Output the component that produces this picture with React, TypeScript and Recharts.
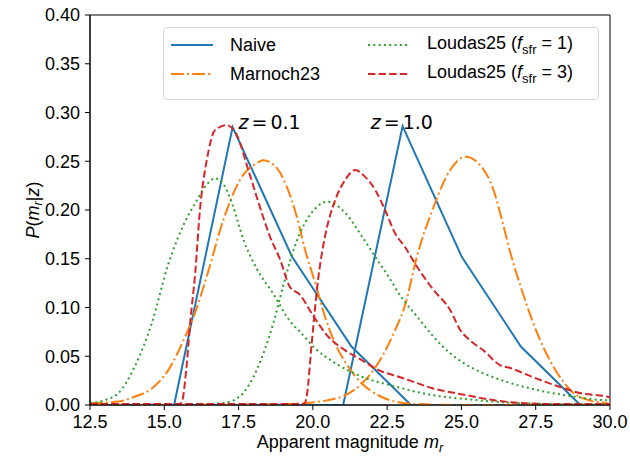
import React from 'react'
import { LineChart, Line, XAxis, YAxis, ReferenceArea, ReferenceDot } from 'recharts'

const FONT = '"Liberation Sans", Arial, Helvetica, sans-serif'
const MATH = '"DejaVu Sans", sans-serif'

// axis ticks
const xTicks = [12.5, 15, 17.5, 20, 22.5, 25, 27.5, 30]
const yTicks = [0, 0.05, 0.1, 0.15, 0.2, 0.25, 0.3, 0.35, 0.4]

// Naive
const naiveZ01M = [12.5, 15.33, 17.3, 19.3, 21.3, 23.3, 30]
const naiveZ01P = [0, 0, 0.285, 0.152, 0.06, 0, 0]
const naiveZ10M = [12.5, 21.02, 23.02, 25.01, 27.0, 29.0, 30]
const naiveZ10P = [0, 0, 0.286, 0.152, 0.06, 0, 0]

// Marnoch23
const marnochZ01M = [12.5, 13.45, 14.0, 14.58, 15.14, 15.7, 16.04, 16.43, 16.99, 17.55, 18.11, 18.33, 18.79, 19.12, 19.46, 19.74, 20.08, 20.41, 20.75, 21.2, 21.65, 22.2, 22.77, 23.5, 25, 30]
const marnochZ01P = [0.002, 0.0035, 0.0085, 0.017, 0.036, 0.07, 0.095, 0.132, 0.19, 0.231, 0.248, 0.251, 0.243, 0.224, 0.193, 0.159, 0.125, 0.0905, 0.063, 0.039, 0.022, 0.01, 0.0035, 0.001, 0, 0]
const marnochZ10M = [12.5, 18.5, 19.74, 20.52, 21.09, 21.65, 22.2, 22.77, 23.1, 23.5, 24.06, 24.62, 25.13, 25.63, 26.08, 26.42, 26.64, 27.03, 27.6, 28.16, 28.72, 29.28, 29.84, 30]
const marnochZ10P = [0, 0.0005, 0.002, 0.005, 0.01, 0.022, 0.043, 0.077, 0.102, 0.152, 0.203, 0.241, 0.2545, 0.246, 0.2205, 0.183, 0.157, 0.118, 0.07, 0.036, 0.0137, 0.005, 0.002, 0.001]

// Loudas25 (f_sfr = 1)
const loudas1Z01M = [12.5, 13.0, 13.45, 14.0, 14.58, 15.14, 15.7, 16.04, 16.4, 16.71, 17.0, 17.3, 17.66, 18.11, 18.67, 19.23, 19.57, 20.08, 20.75, 21.65, 22.77, 24.05, 25.18, 26.3, 28, 30]
const loudas1Z01P = [0.002, 0.005, 0.012, 0.039, 0.084, 0.145, 0.188, 0.207, 0.225, 0.2325, 0.226, 0.205, 0.17, 0.14, 0.114, 0.086, 0.075, 0.058, 0.043, 0.029, 0.019, 0.01, 0.006, 0.003, 0.001, 0.0005]
const loudas1Z10M = [12.5, 16.0, 16.98, 17.55, 18.11, 18.67, 19.0, 19.35, 19.74, 20.1, 20.47, 21.09, 21.65, 22.1, 22.54, 22.99, 23.5, 24.06, 24.62, 25.18, 25.74, 26.3, 27.6, 28.72, 29.84, 30]
const loudas1Z10P = [0, 0.0005, 0.002, 0.009, 0.036, 0.084, 0.122, 0.159, 0.187, 0.202, 0.2085, 0.197, 0.173, 0.152, 0.132, 0.11, 0.091, 0.07, 0.053, 0.041, 0.0325, 0.026, 0.015, 0.009, 0.005, 0.005]

// Loudas25 (f_sfr = 3)
const loudas3Z01M = [12.5, 15.5, 15.59, 15.75, 15.87, 16.04, 16.2, 16.43, 16.71, 17.1, 17.44, 17.83, 18.11, 18.56, 18.9, 19.23, 19.57, 19.96, 20.52, 21.09, 21.65, 22.2, 22.99, 24.05, 25.18, 26.3, 28, 30]
const loudas3Z01P = [0.001, 0.001, 0.003, 0.04, 0.084, 0.135, 0.2, 0.251, 0.282, 0.287, 0.277, 0.241, 0.2135, 0.1725, 0.149, 0.121, 0.113, 0.094, 0.07, 0.056, 0.046, 0.036, 0.028, 0.017, 0.01, 0.004, 0.001, 0.001]
const loudas3Z10M = [12.5, 19.7, 19.8, 19.96, 20.19, 20.41, 20.75, 21.09, 21.42, 21.76, 22.1, 22.43, 22.77, 23.1, 23.5, 24.06, 24.62, 24.96, 25.3, 25.74, 26.3, 26.64, 27.37, 28.27, 28.94, 29.84, 30]
const loudas3Z10P = [0.001, 0.001, 0.01, 0.063, 0.132, 0.173, 0.21, 0.231, 0.241, 0.234, 0.2205, 0.2, 0.176, 0.162, 0.142, 0.118, 0.0975, 0.077, 0.066, 0.056, 0.041, 0.038, 0.029, 0.019, 0.0126, 0.009, 0.008]

const pts = (m: number[], p: number[]) => m.map((x, i) => ({ m: x, p: p[i] }))

const BLUE = '#1f77b4'
const ORANGE = '#ff7f0e'
const GREEN = '#2ca02c'
const RED = '#d62728'
const LW = 2
const DASHDOT = '12.8 3.2 2 3.2'
const DOTTED = '2 3.3'
const DASHED = '7.4 3.2'

const series = [
  { key: 'n01', data: pts(naiveZ01M, naiveZ01P), color: BLUE, dash: undefined, type: 'linear' },
  { key: 'n10', data: pts(naiveZ10M, naiveZ10P), color: BLUE, dash: undefined, type: 'linear' },
  { key: 'm01', data: pts(marnochZ01M, marnochZ01P), color: ORANGE, dash: DASHDOT, type: 'monotone' },
  { key: 'm10', data: pts(marnochZ10M, marnochZ10P), color: ORANGE, dash: DASHDOT, type: 'monotone' },
  { key: 'l101', data: pts(loudas1Z01M, loudas1Z01P), color: GREEN, dash: DOTTED, type: 'monotone' },
  { key: 'l110', data: pts(loudas1Z10M, loudas1Z10P), color: GREEN, dash: DOTTED, type: 'monotone' },
  { key: 'l301', data: pts(loudas3Z01M, loudas3Z01P), color: RED, dash: DASHED, type: 'monotone' },
  { key: 'l310', data: pts(loudas3Z10M, loudas3Z10P), color: RED, dash: DASHED, type: 'monotone' },
]

const zLabel = (txt: string) => (props: any) => {
  const vb = props.viewBox || {}
  return (
    <text x={vb.x} y={vb.y} fontFamily={MATH} fontSize={19} fill="#000">
      <tspan fontStyle="italic">z</tspan>
      <tspan dx={3}>=</tspan>
      <tspan dx={3}>{txt}</tspan>
    </text>
  )
}

const YLabel = (props: any) => {
  const vb = props.viewBox
  const cx = vb.x + 3
  const cy = vb.y + vb.height / 2
  return (
    <text x={cx} y={cy} transform={`rotate(-90 ${cx} ${cy})`} textAnchor="middle" fontFamily={FONT} fontSize={18} fill="#000" dominantBaseline="central">
      <tspan fontStyle="italic">P</tspan>(<tspan fontStyle="italic">m</tspan>
      <tspan fontStyle="italic" fontSize={13} dy={4}>r</tspan>
      <tspan dy={-4}>|</tspan><tspan fontStyle="italic">z</tspan>)
    </text>
  )
}

const XLabel = (props: any) => {
  const vb = props.viewBox
  return (
    <text x={vb.x + vb.width / 2} y={vb.y + 43} textAnchor="middle" fontFamily={FONT} fontSize={18} fill="#000">
      Apparent magnitude <tspan fontStyle="italic">m</tspan>
      <tspan fontStyle="italic" fontSize={13} dy={4}>r</tspan>
    </text>
  )
}

const legendItems = [
  { label: 'Naive', color: BLUE, dash: undefined, col: 0, row: 0 },
  { label: 'Marnoch23', color: ORANGE, dash: DASHDOT, col: 0, row: 1 },
  { label: '1', color: GREEN, dash: DOTTED, col: 1, row: 0 },
  { label: '3', color: RED, dash: DASHED, col: 1, row: 1 },
]

function ChartLegend() {
  return (
    <div style={{ position: 'absolute', left: 163, top: 27, width: 434, height: 71, border: '1px solid #d5d5d5', borderRadius: 4, background: 'rgba(255,255,255,0.8)', fontFamily: FONT, fontSize: 18 }}>
      {legendItems.map((it) => {
        const left = it.col === 0 ? 7 : 204
        const top = it.row === 0 ? 17 : 46
        return (
          <div key={it.label} style={{ position: 'absolute', left, top: top - 12, height: 24, display: 'flex', alignItems: 'center', whiteSpace: 'nowrap' }}>
            <svg width={42} height={24} style={{ marginRight: 17 }}>
              <line x1={0} x2={42} y1={12} y2={12} stroke={it.color} strokeWidth={LW} strokeDasharray={it.dash} />
            </svg>
            {it.col === 0 ? (
              <span>{it.label}</span>
            ) : (
              <span>
                Loudas25 (<i>f</i>
                <sub style={{ fontSize: 13 }}>sfr</sub> = {it.label})
              </span>
            )}
          </div>
        )
      })}
    </div>
  )
}

export default function App() {
  return (
    <div style={{ position: 'absolute', left: 0, top: 0, width: 630, height: 464, background: '#fff' }}>
      <LineChart width={630} height={464} margin={{ top: 15, right: 20, left: 30, bottom: 19 }}>
        <XAxis
          type="number"
          dataKey="m"
          domain={[12.5, 30]}
          ticks={xTicks}
          allowDataOverflow
          tickFormatter={(v: number) => v.toFixed(1)}
          tickSize={5}
          tickMargin={5}
          height={40}
          stroke="#000"
          tick={{ fill: '#000', fontSize: 18, fontFamily: FONT }}
          label={{ content: XLabel }}
        />
        <YAxis
          type="number"
          domain={[0, 0.4]}
          ticks={yTicks}
          allowDataOverflow
          tickFormatter={(v: number) => v.toFixed(2)}
          tickSize={5}
          tickMargin={5}
          width={60}
          stroke="#000"
          tick={{ fill: '#000', fontSize: 18, fontFamily: FONT }}
          label={{ content: YLabel }}
        />
        {series.map((s) => (
          <Line
            key={s.key}
            data={s.data}
            dataKey="p"
            type={s.type as any}
            stroke={s.color}
            strokeWidth={LW}
            strokeDasharray={s.dash}
            dot={false}
            activeDot={false}
            isAnimationActive={false}
          />
        ))}
        <ReferenceDot x={17.5} y={0.283} r={0} fill="none" stroke="none" label={{ content: zLabel('0.1') }} />
        <ReferenceDot x={21.95} y={0.283} r={0} fill="none" stroke="none" label={{ content: zLabel('1.0') }} />
        <ReferenceArea x1={12.5} x2={30} y1={0} y2={0.4} fill="none" stroke="#000" strokeWidth={1} />
      </LineChart>
      <ChartLegend />
    </div>
  )
}
